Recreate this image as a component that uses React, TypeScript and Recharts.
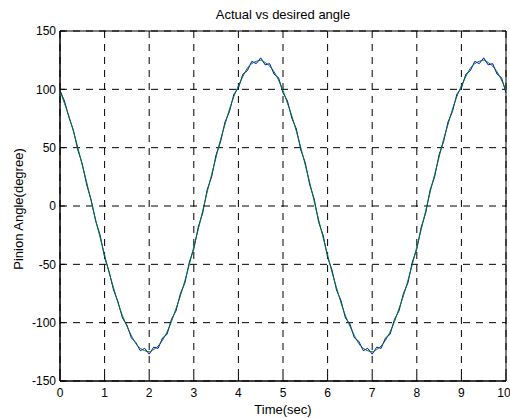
import React from "react"
import { CartesianGrid, Line, LineChart, ReferenceArea, XAxis, YAxis } from "recharts"

// time samples (sec)
const timeSec = [
  0, 0.1, 0.2, 0.3, 0.4, 0.5, 0.6, 0.7, 0.8, 0.9,
  1, 1.1, 1.2, 1.3, 1.4, 1.5, 1.6, 1.7, 1.8, 1.9,
  2, 2.1, 2.2, 2.3, 2.4, 2.5, 2.6, 2.7, 2.8, 2.9,
  3, 3.1, 3.2, 3.3, 3.4, 3.5, 3.6, 3.7, 3.8, 3.9,
  4, 4.1, 4.2, 4.3, 4.4, 4.5, 4.6, 4.7, 4.8, 4.9,
  5, 5.1, 5.2, 5.3, 5.4, 5.5, 5.6, 5.7, 5.8, 5.9,
  6, 6.1, 6.2, 6.3, 6.4, 6.5, 6.6, 6.7, 6.8, 6.9,
  7, 7.1, 7.2, 7.3, 7.4, 7.5, 7.6, 7.7, 7.8, 7.9,
  8, 8.1, 8.2, 8.3, 8.4, 8.5, 8.6, 8.7, 8.8, 8.9,
  9, 9.1, 9.2, 9.3, 9.4, 9.5, 9.6, 9.7, 9.8, 9.9,
  10,
]

// actual pinion angle (blue, a bit ripply)
const actualAngle = [
  99, 90, 76, 65, 48, 36, 18, 5, -13, -25,
  -44, -56, -72, -82, -96, -102, -113, -117, -124, -122,
  -127, -121, -122, -113, -110, -97, -90, -75, -66, -48,
  -37, -18, -6, 14, 25, 44, 55, 72, 81, 96,
  101, 113, 116, 124, 122, 127, 121, 122, 113, 110,
  97, 90, 75, 66, 48, 37, 18, 6, -14, -25,
  -44, -55, -72, -81, -96, -101, -113, -116, -124, -122,
  -127, -121, -122, -113, -110, -97, -90, -75, -66, -48,
  -37, -18, -6, 14, 25, 44, 55, 72, 81, 96,
  101, 113, 116, 124, 122, 127, 121, 122, 113, 110,
  97,
]

// desired angle (green)
const desiredAngle = [
  99, 88, 77, 64, 50, 35, 20, 4, -12, -27,
  -42, -57, -70, -83, -94, -103, -111, -118, -122, -124,
  -125, -123, -120, -115, -108, -99, -88, -77, -64, -50,
  -35, -20, -4, 12, 27, 42, 57, 70, 83, 94,
  103, 111, 118, 122, 124, 125, 123, 120, 115, 108,
  99, 88, 77, 64, 50, 35, 20, 4, -12, -27,
  -42, -57, -70, -83, -94, -103, -111, -118, -122, -124,
  -125, -123, -120, -115, -108, -99, -88, -77, -64, -50,
  -35, -20, -4, 12, 27, 42, 57, 70, 83, 94,
  103, 111, 118, 122, 124, 125, 123, 120, 115, 108,
  99,
]

const xTicks = [0, 1, 2, 3, 4, 5, 6, 7, 8, 9, 10]
const yTicks = [-150, -100, -50, 0, 50, 100, 150]

const font = "'Liberation Sans', Arial, Helvetica, sans-serif"

export default function App() {
  const data = timeSec.map((t, i) => ({ t, actual: actualAngle[i], desired: desiredAngle[i] }))
  const tickStyle = { fill: "#000", fontSize: 12, fontFamily: font }

  return (
    <div style={{ position: "absolute", left: 0, top: 0, width: 510, height: 418, background: "#fff", fontFamily: font }}>
      <LineChart width={510} height={418} data={data} margin={{ top: 31, right: 4, bottom: 7, left: 20 }}>
        <CartesianGrid stroke="#000" strokeDasharray="7 6" />
        <XAxis
          dataKey="t"
          type="number"
          domain={[0, 10]}
          ticks={xTicks}
          height={30}
          tick={tickStyle}
          tickSize={-5}
          tickMargin={12}
          stroke="#000"
        />
        <YAxis
          type="number"
          domain={[-150, 150]}
          ticks={yTicks}
          width={40}
          tick={tickStyle}
          tickSize={-5}
          tickMargin={9}
          stroke="#000"
        />
        <XAxis
          xAxisId="top"
          dataKey="t"
          orientation="top"
          type="number"
          domain={[0, 10]}
          ticks={xTicks}
          height={0}
          tick={false}
          tickSize={-5}
          stroke="#000"
        />
        <YAxis
          yAxisId="right"
          orientation="right"
          type="number"
          domain={[-150, 150]}
          ticks={yTicks}
          width={0}
          tick={false}
          tickSize={-5}
          stroke="#000"
        />
        <ReferenceArea x1={0} x2={10} y1={-150} y2={150} fill="none" stroke="#000" ifOverflow="visible" />
        <Line dataKey="desired" xAxisId="top" yAxisId="right" stroke="none" dot={false} isAnimationActive={false} />
        <Line type="linear" dataKey="actual" stroke="#0000ff" strokeWidth={1} dot={false} isAnimationActive={false} />
        <Line type="monotone" dataKey="desired" stroke="#008000" strokeWidth={1} dot={false} isAnimationActive={false} />
      </LineChart>
      <div style={{ position: "absolute", left: 60, width: 446, top: 7, textAlign: "center", fontSize: 13, lineHeight: "15px" }}>
        Actual vs desired angle
      </div>
      <div style={{ position: "absolute", left: 60, width: 446, top: 402, textAlign: "center", fontSize: 13, lineHeight: "15px" }}>
        Time(sec)
      </div>
      <div
        style={{
          position: "absolute",
          left: 18,
          top: 209,
          transform: "translate(-50%, -50%) rotate(-90deg)",
          whiteSpace: "nowrap",
          fontSize: 13,
          lineHeight: "15px",
        }}
      >
        Pinion Angle(degree)
      </div>
    </div>
  )
}
